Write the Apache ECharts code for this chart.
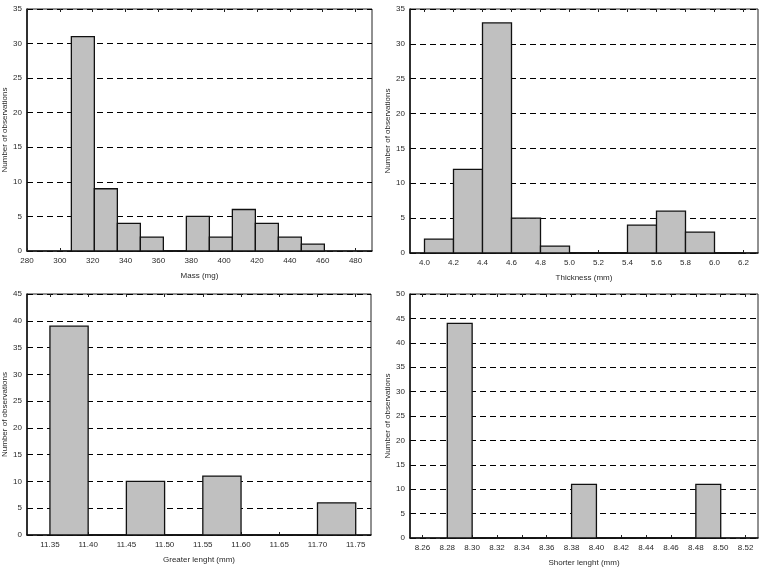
<!DOCTYPE html>
<html>
<head>
<meta charset="utf-8">
<title>Histograms</title>
<script src="https://cdn.jsdelivr.net/npm/echarts@6/dist/echarts.min.js"></script>
<style>
  html, body { margin: 0; padding: 0; background: #fff; }
  #main { width: 764px; height: 568px; }
</style>
</head>
<body>
<div id="main"></div>
<script>
// bin edges + counts for each histogram
const massBins = [307, 321, 335, 349, 363, 377, 391, 405, 419, 433, 447, 461];
const massCounts = [31, 9, 4, 2, 0, 5, 2, 6, 4, 2, 1];
const massTicks = [280, 300, 320, 340, 360, 380, 400, 420, 440, 460, 480];

const thickBins = [4.0, 4.2, 4.4, 4.6, 4.8, 5.0, 5.2, 5.4, 5.6, 5.8, 6.0, 6.2];
const thickCounts = [2, 12, 33, 5, 1, 0, 0, 4, 6, 3, 0];
const thickTicks = [4.0, 4.2, 4.4, 4.6, 4.8, 5.0, 5.2, 5.4, 5.6, 5.8, 6.0, 6.2];

const greaterBins = [11.35, 11.40, 11.45, 11.50, 11.55, 11.60, 11.65, 11.70, 11.75];
const greaterCounts = [39, 0, 10, 0, 11, 0, 0, 6];
const greaterTicks = [11.35, 11.40, 11.45, 11.50, 11.55, 11.60, 11.65, 11.70, 11.75];

const shorterBins = [8.28, 8.30, 8.32, 8.34, 8.36, 8.38, 8.40, 8.42, 8.44, 8.46, 8.48, 8.50];
const shorterCounts = [44, 0, 0, 0, 0, 11, 0, 0, 0, 0, 11];
const shorterTicks = [8.26, 8.28, 8.30, 8.32, 8.34, 8.36, 8.38, 8.40, 8.42, 8.44, 8.46, 8.48, 8.50, 8.52];

const yTitle = 'Number of observations';
const FONT = 'Arial, "Liberation Sans", sans-serif';
const TXT = '#2a2a2a';

// [start, end, count] rows for the custom series
function toRows(bins, counts) {
  return counts.map((c, i) => [bins[i], bins[i + 1], c]);
}

// draw one histogram bar through the axis scales
function renderBin(params, api) {
  const top = api.coord([api.value(0), api.value(2)]);
  const base = api.coord([api.value(1), 0]);
  return {
    type: 'rect',
    shape: { x: top[0], y: top[1], width: base[0] - top[0], height: base[1] - top[1] },
    style: { fill: '#c0c0c0', stroke: '#111', lineWidth: 1.3 }
  };
}

const chart = echarts.init(document.getElementById('main'), null, { renderer: 'canvas' });

// one panel: grid position + axis settings
const panels = [
  { grid: { left: 26, top: 9, width: 346, height: 242 }, min: 280, max: 490, ticks: massTicks, dec: 0, yMax: 35, name: 'Mass (mg)', rows: toRows(massBins, massCounts) },
  { grid: { left: 410, top: 9, width: 348, height: 244 }, min: 3.9, max: 6.3, ticks: thickTicks, dec: 1, yMax: 35, name: 'Thickness (mm)', rows: toRows(thickBins, thickCounts) },
  { grid: { left: 26, top: 294, width: 345, height: 241 }, min: 11.32, max: 11.77, ticks: greaterTicks, dec: 2, yMax: 45, name: 'Greater lenght (mm)', rows: toRows(greaterBins, greaterCounts) },
  { grid: { left: 410, top: 294, width: 348, height: 244 }, min: 8.25, max: 8.53, ticks: shorterTicks, dec: 2, yMax: 50, name: 'Shorter lenght (mm)', rows: toRows(shorterBins, shorterCounts) }
];

var option = {
  backgroundColor: '#fff',
  animation: false,
  grid: [],
  xAxis: [],
  yAxis: [],
  series: []
};

panels.forEach((p, i) => {
  option.grid.push(Object.assign({ show: true, borderColor: '#222', borderWidth: 1, backgroundColor: '#fff' }, p.grid));

  // bottom axis with labels
  option.xAxis.push({
    type: 'value', gridIndex: i, position: 'bottom',
    min: p.min, max: p.max,
    name: p.name, nameLocation: 'middle', nameGap: 21,
    nameTextStyle: { fontFamily: FONT, fontSize: 8, color: TXT },
    axisLine: { show: true, lineStyle: { color: '#111', width: 1.5 } },
    axisTick: { show: true, inside: true, length: 3, customValues: p.ticks, lineStyle: { color: '#222' } },
    axisLabel: {
      customValues: p.ticks, margin: 6,
      fontFamily: FONT, fontSize: 8, color: TXT,
      formatter: v => Number(v).toFixed(p.dec)
    },
    splitLine: { show: false }
  });
  // top axis, ticks only
  option.xAxis.push({
    type: 'value', gridIndex: i, position: 'top',
    min: p.min, max: p.max,
    axisLine: { show: false },
    axisTick: { show: true, inside: true, length: 3, customValues: p.ticks, lineStyle: { color: '#222' } },
    axisLabel: { show: false },
    splitLine: { show: false }
  });

  option.yAxis.push({
    type: 'value', gridIndex: i,
    min: 0, max: p.yMax, interval: 5,
    name: yTitle, nameLocation: 'middle', nameGap: 18,
    nameTextStyle: { fontFamily: FONT, fontSize: 8, color: TXT },
    axisLine: { show: true, lineStyle: { color: '#111', width: 1.5 } },
    axisTick: { show: false },
    axisLabel: { margin: 5, fontFamily: FONT, fontSize: 8, color: TXT },
    splitLine: { show: true, lineStyle: { color: '#000', width: 1, type: [6, 4] } }
  });

  option.series.push({
    type: 'custom',
    xAxisIndex: i * 2,
    yAxisIndex: i,
    renderItem: renderBin,
    encode: { x: [0, 1], y: 2 },
    data: p.rows,
    silent: true
  });
});

chart.setOption(option);
</script>
</body>
</html>
